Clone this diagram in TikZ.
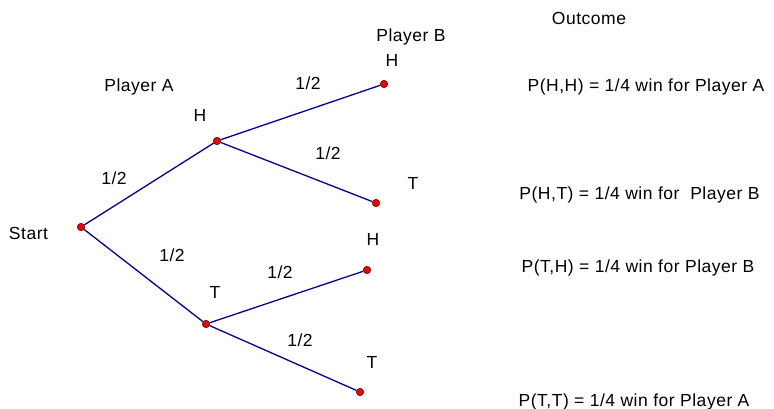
\documentclass[tikz,border=0pt]{standalone}
\usepackage{fontspec}
\setmainfont{Liberation Sans}[LetterSpace=3]
\definecolor{branch}{RGB}{0,0,150}
\definecolor{dotred}{RGB}{240,0,0}
\begin{document}
\begin{tikzpicture}[x=1pt,y=-1pt,
  dot/.style={circle,fill=dotred,draw=black!70!red,line width=0.5pt,inner sep=0pt,minimum size=7.5pt},
  lbl/.style={font=\fontsize{17.5}{20}\selectfont,inner sep=0pt,anchor=center},
  edge/.style={draw=branch,line width=1.3pt}]
\useasboundingbox (0,0) rectangle (774,409);
% dots
\node[dot] (s) at (81,227) {};
\node[dot] (ah) at (217,141) {};
\node[dot] (at) at (206,324) {};
\node[dot] (hh) at (384,84) {};
\node[dot] (ht) at (376,203) {};
\node[dot] (th) at (367,270) {};
\node[dot] (tt) at (360,392) {};
% branches
\draw[edge] (s) -- (ah);
\draw[edge] (s) -- (at);
\draw[edge] (ah) -- (hh);
\draw[edge] (ah) -- (ht);
\draw[edge] (at) -- (th);
\draw[edge] (at) -- (tt);
% labels
\node[lbl] (lstart) at (28.5,233) {Start};
\node[lbl] (lpa) at (139,87) {Player A};
\node[lbl] (lah) at (200,115) {H};
\node[lbl] (lat) at (215,292) {T};
\node[lbl] (p1) at (114,178) {1/2};
\node[lbl] (p2) at (172,255) {1/2};
\node[lbl] (lpb) at (411,37) {Player B};
\node[lbl] (lhh) at (392,60) {H};
\node[lbl] (p3) at (308,83) {1/2};
\node[lbl] (p4) at (328,153) {1/2};
\node[lbl] (lht) at (413,183) {T};
\node[lbl] (lth) at (373,239) {H};
\node[lbl] (p5) at (280,272) {1/2};
\node[lbl] (p6) at (300,340) {1/2};
\node[lbl] (ltt) at (372,362) {T};
\node[lbl] (lout) at (589,18) {Outcome};
\node[lbl] (o1) at (646,87) {P(H,H) = 1/4 win for Player A};
\node[lbl] (o2) at (639.5,195) {P(H,T) = 1/4 win for\ \ Player B};
\node[lbl] (o3) at (638,268) {P(T,H) = 1/4 win for Player B};
\node[lbl] (o4) at (634,402) {P(T,T) = 1/4 win for Player A};
\end{tikzpicture}
\end{document}
